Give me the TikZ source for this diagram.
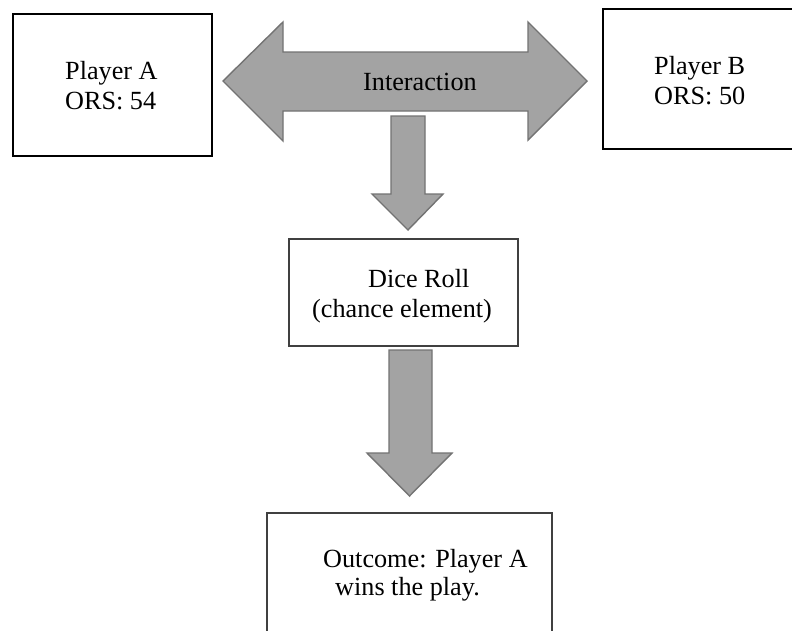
\documentclass[tikz,border=0pt]{standalone}
\usepackage{fontspec}
\setmainfont{Liberation Serif}
\begin{document}
\begin{tikzpicture}[x=1pt,y=-1pt,
  thickbox/.style={draw=black,line width=2.4pt,fill=white,inner sep=0pt},
  thinbox/.style={draw=black!75,line width=1.4pt,fill=white,inner sep=0pt},
  blockarrow/.style={fill=black!36,draw=black!55,line width=1.4pt,line join=miter},
  txt/.style={inner sep=0pt,font=\fontsize{26.2}{30}\selectfont,anchor=base west}]
\useasboundingbox (0,0) rectangle (792,630);
\clip (0,0) rectangle (792,630);
\fill[white] (0,0) rectangle (792,630);
% boxes
\node[thickbox,minimum width=199pt,minimum height=142pt] (pa) at (112.5,85) {};
\node[thickbox,minimum width=200pt,minimum height=140pt] (pb) at (703,79) {};
\node[thinbox,minimum width=229pt,minimum height=107pt] (dice) at (403.5,292.5) {};
\node[thinbox,minimum width=285pt,minimum height=160pt] (out) at (409.5,593) {};
% double arrow
\draw[blockarrow] (223,81) -- (283,22) -- (283,52) -- (528,52) -- (528,22) -- (587,81)
  -- (528,140) -- (528,111) -- (283,111) -- (283,141) -- cycle;
% down arrows
\draw[blockarrow] (391,116) -- (425,116) -- (425,194) -- (443,194) -- (408,230)
  -- (372,194) -- (391,194) -- cycle;
\draw[blockarrow] (389,350) -- (432,350) -- (432,453) -- (452,453) -- (409.5,496)
  -- (367,453) -- (389,453) -- cycle;
% texts
\node[txt] (inter) at (363,90) {Interaction};
\node[txt] (pa1) at (65,79) {Player A};
\node[txt] (pa2) at (65,109) {ORS: 54};
\node[txt] (pb1) at (654,74) {Player B};
\node[txt] (pb2) at (654,104) {ORS: 50};
\node[txt] (d1) at (368,287) {Dice Roll};
\node[txt] (d2) at (312,317) {(chance element)};
\node[txt] (o1) at (323,567) {Outcome: Player A};
\node[txt] (o2) at (335,595) {wins the play.};
\end{tikzpicture}
\end{document}
